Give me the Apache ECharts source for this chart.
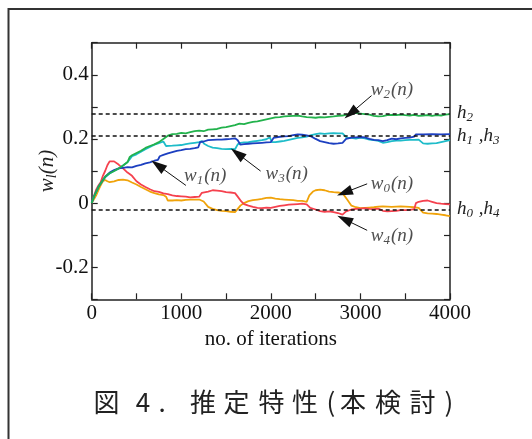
<!DOCTYPE html>
<html><head><meta charset="utf-8">
<script src="https://cdn.jsdelivr.net/npm/echarts@6/dist/echarts.min.js"></script>
<style>html,body{margin:0;padding:0;background:#fff;}#c{width:532px;height:439px;}</style>
</head><body><div id="c"></div>
<script>
// ---- data ----
const w2 = [[0,0],[25,0.02],[50,0.035],[75,0.05],[100,0.061],[125,0.072],[150,0.082],[175,0.088],[200,0.093],[250,0.1],[300,0.108],[350,0.117],[400,0.128],[425,0.144],[450,0.149],[500,0.156],[550,0.163],[600,0.172],[650,0.178],[700,0.183],[750,0.19],[800,0.2],[850,0.21],[900,0.215],[950,0.216],[1000,0.219],[1050,0.217],[1100,0.221],[1150,0.224],[1200,0.226],[1250,0.224],[1300,0.229],[1350,0.23],[1400,0.231],[1450,0.235],[1500,0.237],[1550,0.24],[1600,0.243],[1650,0.248],[1700,0.246],[1750,0.25],[1800,0.253],[1850,0.255],[1900,0.258],[1950,0.261],[2000,0.264],[2050,0.267],[2100,0.268],[2150,0.27],[2200,0.271],[2250,0.272],[2300,0.273],[2350,0.27],[2400,0.268],[2450,0.267],[2500,0.266],[2550,0.268],[2600,0.267],[2650,0.269],[2700,0.27],[2750,0.272],[2800,0.273],[2850,0.276],[2900,0.279],[2950,0.281],[3000,0.279],[3050,0.277],[3100,0.276],[3150,0.272],[3200,0.27],[3250,0.271],[3300,0.274],[3350,0.275],[3400,0.274],[3450,0.276],[3500,0.274],[3550,0.273],[3600,0.275],[3650,0.272],[3700,0.273],[3750,0.274],[3800,0.272],[3850,0.274],[3900,0.273],[3950,0.276],[4000,0.277]];
const w1 = [[0,0],[25,0.02],[50,0.035],[75,0.05],[100,0.061],[150,0.082],[200,0.095],[250,0.103],[300,0.108],[350,0.11],[400,0.112],[450,0.111],[500,0.116],[550,0.119],[600,0.124],[650,0.127],[700,0.132],[740,0.135],[760,0.146],[800,0.15],[850,0.155],[900,0.159],[950,0.163],[1000,0.165],[1050,0.168],[1100,0.169],[1150,0.171],[1190,0.174],[1210,0.19],[1250,0.192],[1300,0.196],[1350,0.197],[1400,0.198],[1450,0.198],[1500,0.199],[1550,0.2],[1600,0.202],[1630,0.196],[1660,0.182],[1700,0.184],[1750,0.185],[1800,0.186],[1850,0.187],[1900,0.188],[1950,0.189],[2000,0.19],[2030,0.203],[2080,0.206],[2150,0.208],[2200,0.209],[2250,0.212],[2300,0.214],[2350,0.213],[2400,0.211],[2450,0.208],[2500,0.2],[2550,0.193],[2600,0.19],[2650,0.187],[2700,0.185],[2750,0.186],[2800,0.188],[2840,0.2],[2900,0.204],[2950,0.205],[3000,0.206],[3050,0.205],[3100,0.2],[3150,0.197],[3200,0.196],[3250,0.193],[3300,0.196],[3350,0.201],[3400,0.199],[3450,0.202],[3500,0.203],[3550,0.204],[3600,0.207],[3620,0.214],[3700,0.214],[3800,0.215],[3900,0.214],[4000,0.215]];
const w3 = [[0,0],[25,0.02],[50,0.035],[75,0.05],[100,0.061],[150,0.08],[200,0.092],[250,0.1],[300,0.107],[350,0.117],[400,0.127],[450,0.146],[500,0.152],[550,0.16],[600,0.168],[650,0.175],[700,0.182],[750,0.187],[800,0.192],[830,0.178],[900,0.179],[950,0.18],[1000,0.181],[1050,0.184],[1100,0.186],[1150,0.188],[1200,0.19],[1230,0.193],[1260,0.184],[1300,0.178],[1350,0.173],[1400,0.171],[1450,0.169],[1500,0.168],[1550,0.169],[1600,0.168],[1630,0.183],[1660,0.188],[1700,0.189],[1750,0.19],[1800,0.192],[1850,0.194],[1900,0.196],[1950,0.199],[1990,0.205],[2010,0.19],[2050,0.19],[2100,0.192],[2150,0.194],[2200,0.197],[2250,0.2],[2300,0.203],[2350,0.205],[2400,0.207],[2450,0.212],[2500,0.215],[2550,0.217],[2600,0.216],[2650,0.217],[2700,0.218],[2750,0.217],[2800,0.217],[2850,0.203],[2900,0.203],[2950,0.201],[3000,0.204],[3050,0.202],[3100,0.198],[3150,0.196],[3200,0.194],[3250,0.188],[3300,0.19],[3350,0.193],[3400,0.195],[3450,0.195],[3500,0.196],[3550,0.197],[3600,0.197],[3650,0.198],[3700,0.186],[3750,0.185],[3800,0.186],[3850,0.187],[3900,0.19],[3950,0.193],[4000,0.196]];
const w4 = [[0,0],[25,0.022],[50,0.042],[75,0.055],[100,0.065],[125,0.085],[150,0.1],[175,0.118],[200,0.13],[215,0.135],[250,0.13],[300,0.12],[350,0.108],[400,0.095],[450,0.085],[500,0.068],[550,0.058],[600,0.05],[650,0.043],[700,0.037],[750,0.035],[800,0.03],[850,0.028],[900,0.024],[950,0.022],[1000,0.021],[1050,0.02],[1100,0.018],[1150,0.019],[1200,0.02],[1230,0.032],[1300,0.036],[1350,0.04],[1400,0.039],[1450,0.037],[1500,0.034],[1550,0.033],[1600,0.031],[1630,0.02],[1670,0.005],[1700,-0.003],[1750,-0.008],[1800,-0.012],[1850,-0.015],[1900,-0.016],[1950,-0.014],[2000,-0.015],[2050,-0.012],[2100,-0.009],[2150,-0.007],[2200,-0.005],[2250,-0.004],[2300,-0.003],[2350,-0.002],[2400,-0.004],[2440,-0.015],[2500,-0.02],[2550,-0.025],[2600,-0.027],[2650,-0.026],[2700,-0.028],[2750,-0.031],[2800,-0.036],[2840,-0.026],[2900,-0.02],[2950,-0.018],[3000,-0.017],[3050,-0.016],[3100,-0.018],[3150,-0.019],[3200,-0.017],[3250,-0.024],[3300,-0.026],[3350,-0.025],[3400,-0.024],[3450,-0.022],[3500,-0.022],[3550,-0.021],[3600,-0.019],[3620,0.0],[3650,0.004],[3700,0.007],[3750,0.008],[3800,0.004],[3850,0.0],[3900,-0.002],[3950,-0.003],[4000,-0.004]];
const w0 = [[0,0],[25,0.012],[50,0.024],[75,0.04],[100,0.055],[125,0.068],[150,0.072],[175,0.068],[200,0.065],[250,0.068],[300,0.072],[350,0.073],[400,0.071],[450,0.064],[500,0.058],[550,0.05],[600,0.043],[650,0.036],[700,0.031],[750,0.027],[800,0.025],[830,0.02],[850,0.008],[900,0.008],[950,0.009],[1000,0.008],[1050,0.01],[1100,0.011],[1150,0.011],[1200,0.011],[1250,0.005],[1300,-0.012],[1350,-0.018],[1400,-0.022],[1450,-0.024],[1500,-0.025],[1550,-0.027],[1600,-0.028],[1620,-0.026],[1660,-0.008],[1700,0.0],[1750,0.006],[1800,0.009],[1850,0.011],[1900,0.013],[1950,0.016],[2000,0.017],[2050,0.014],[2100,0.012],[2150,0.011],[2200,0.01],[2250,0.009],[2300,0.007],[2350,0.007],[2400,0.004],[2430,0.024],[2470,0.036],[2500,0.04],[2550,0.042],[2600,0.04],[2650,0.036],[2700,0.034],[2750,0.033],[2800,0.031],[2850,0.012],[2900,-0.008],[2950,-0.013],[3000,-0.016],[3050,-0.015],[3100,-0.014],[3150,-0.013],[3200,-0.011],[3250,-0.01],[3300,-0.011],[3350,-0.012],[3400,-0.011],[3450,-0.01],[3500,-0.011],[3550,-0.012],[3600,-0.013],[3650,-0.015],[3700,-0.03],[3750,-0.032],[3800,-0.033],[3850,-0.034],[3900,-0.036],[3950,-0.038],[4000,-0.041]];

const hValues = [0.285, 0.214, -0.018];
const hNames = [['2'], ['1','3'], ['0','4']];
const xTickLabels = [0, 1000, 2000, 3000, 4000];
const yTickLabels = [-0.2, 0, 0.2, 0.4];
const labelSubs = ['2', '1', '3', '0', '4'];
const labelAt = [[3352,0.351],[1268,0.083],[2177,0.0914],[3352,0.058],[3352,-0.104]];
const arrowFrom = [[3124,0.335],[1052,0.055],[1886,0.0997],[3075,0.060],[3075,-0.085]];
const arrowTo = [[2890,0.2795],[738,0.118],[1625,0.155],[2822,0.0325],[2822,-0.0505]];
const caption = ['図','4','.','推','定','特','性','(','本','検','討',')'];
const captionX = [106.5,143,162,203,236.5,271.5,305,331,353,388,422.5,449];

// ---- chart ----
const serif = 'Liberation Serif';
const rich = {
  i: {fontFamily: serif, fontStyle: 'italic', fontSize: 19, color: '#222', lineHeight: 22},
  s: {fontFamily: serif, fontStyle: 'italic', fontSize: 13, color: '#222', verticalAlign: 'bottom', lineHeight: 13, padding: [0,1,0,0]},
  n: {fontFamily: serif, fontStyle: 'italic', fontSize: 19, color: '#222', lineHeight: 22}
};
function hLabel(subs) {
  return subs.map(s => '{i|h}{s|' + s + '}').join('{n| ,}');
}
const chart = echarts.init(document.getElementById('c'), null, {renderer: 'canvas'});
const axisLine = {show: true, onZero: false, lineStyle: {color: '#222', width: 1.5}};
const tick = {show: true, inside: true, length: 6, lineStyle: {color: '#222', width: 1.2}};
const series = [
  {data: w0, color: '#f0a30a'},
  {data: w4, color: '#f5414e'},
  {data: w3, color: '#1ebcc9'},
  {data: w1, color: '#1c3fc0'},
  {data: w2, color: '#22b24c'}
].map(s => ({
  type: 'line', data: s.data, showSymbol: false, symbol: 'none', silent: true,
  lineStyle: {color: s.color, width: 1.8}, itemStyle: {color: s.color}
}));
const markData = hValues.map((v, k) => ({
  yAxis: v, symbol: 'none',
  lineStyle: {type: [4, 3], color: '#111', width: 1.6},
  label: {show: true, position: 'end', distance: 7, formatter: hLabel(hNames[k]), rich: rich}
})).concat(arrowFrom.map((f, k) => [
  {coord: f, symbol: 'none', lineStyle: {type: 'solid', color: '#111', width: 1}},
  {coord: arrowTo[k], symbol: 'triangle', symbolSize: [10, 16]}
]));
series.push({
  type: 'scatter', silent: true, symbolSize: 1, itemStyle: {color: 'rgba(0,0,0,0)'},
  data: labelAt.map((p, k) => ({value: p, name: labelSubs[k]})),
  label: {show: true, position: 'inside', formatter: p => '{i|w}{s|' + p.name + '}{i|(n)}', rich: rich},
  markLine: {silent: true, symbol: ['none', 'none'], label: {show: false}, animation: false,
    lineStyle: {color: '#111'}, data: markData},
  z: 5
});
chart.setOption({
  animation: false,
  backgroundColor: '#fff',
  grid: {left: 91.7, right: 82, top: 42.7, bottom: 139.7},
  xAxis: [{
    type: 'value', min: 0, max: 4000, interval: 500, position: 'bottom',
    axisLine: axisLine, axisTick: tick, splitLine: {show: false},
    axisLabel: {margin: 4, fontFamily: serif, fontSize: 21, color: '#111',
      formatter: v => xTickLabels.includes(v) ? String(v) : ''},
    name: 'no. of iterations', nameLocation: 'middle', nameGap: 28,
    nameTextStyle: {fontFamily: serif, fontSize: 21, color: '#111'}
  }, {
    type: 'value', min: 0, max: 4000, interval: 500, position: 'top',
    axisLine: axisLine, axisTick: tick, splitLine: {show: false}, axisLabel: {show: false}
  }],
  yAxis: [{
    type: 'value', min: -0.3, max: 0.5, interval: 0.1, position: 'left',
    axisLine: axisLine, axisTick: tick, splitLine: {show: false},
    axisLabel: {margin: 3, fontFamily: serif, fontSize: 21, color: '#111',
      formatter: v => { const r = Math.round(v * 10) / 10; return yTickLabels.some(t => Math.abs(t - r) < 1e-9) ? String(r) : ''; }},
    name: '{i|w}{s|l}{i|(n)}', nameLocation: 'middle', nameGap: 32, nameRotate: 90, nameMoveOverlap: false,
    nameTextStyle: {rich: {
      i: {fontFamily: serif, fontStyle: 'italic', fontSize: 21, color: '#222', lineHeight: 24},
      s: {fontFamily: serif, fontStyle: 'italic', fontSize: 14, color: '#222', verticalAlign: 'bottom', lineHeight: 14}
    }}
  }, {
    type: 'value', min: -0.3, max: 0.5, interval: 0.1, position: 'right',
    axisLine: axisLine, axisTick: tick, splitLine: {show: false}, axisLabel: {show: false}
  }],
  series: series,
  graphic: [{
    type: 'rect', silent: true, z: 0,
    shape: {x: 8.5, y: 9, width: 700, height: 700},
    style: {fill: 'none', stroke: '#333', lineWidth: 2}
  }].concat(caption.map((c, k) => ({
    type: 'text', silent: true, x: captionX[k], y: 402,
    style: {text: c, fontFamily: 'Noto Sans CJK JP', fontSize: 26, fill: '#222', align: 'center', verticalAlign: 'middle'}
  })))
});
</script></body></html>
